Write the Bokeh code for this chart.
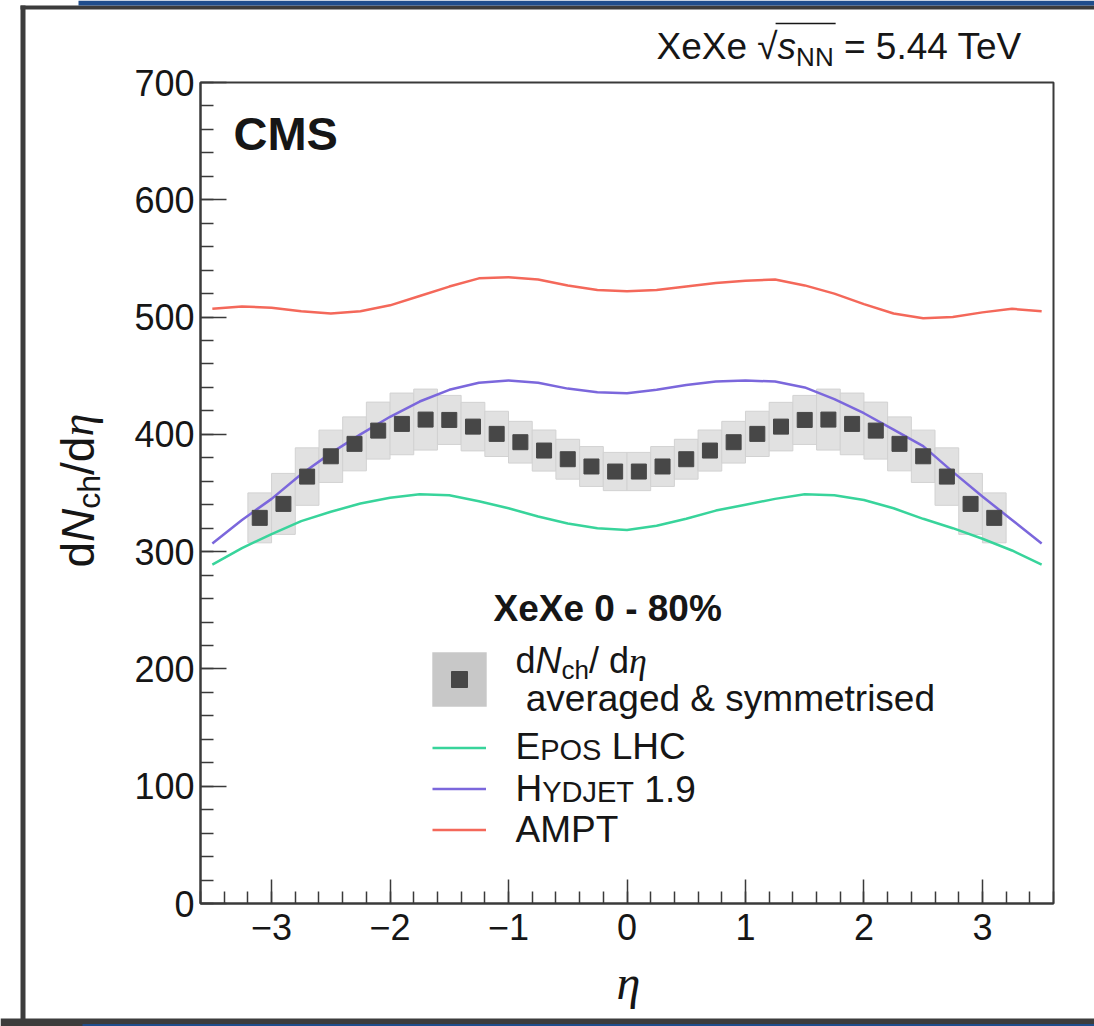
from bokeh.plotting import figure
from bokeh.models import (Label, Legend, LegendItem, SingleIntervalTicker,
                          ColumnDataSource, GlobalInlineStyleSheet)
from bokeh.embed import file_html
from bokeh.resources import INLINE

# ---------------------------------------------------------------- data
# measured dN_ch/deta (averaged & symmetrised), 0.2-wide eta bins
eta_bins = [-3.1, -2.9, -2.7, -2.5, -2.3, -2.1, -1.9, -1.7, -1.5, -1.3, -1.1,
            -0.9, -0.7, -0.5, -0.3, -0.1, 0.1, 0.3, 0.5, 0.7, 0.9, 1.1, 1.3,
            1.5, 1.7, 1.9, 2.1, 2.3, 2.5, 2.7, 2.9, 3.1]
dndeta = [328.8, 340.7, 364.0, 381.3, 391.9, 403.2, 408.9, 412.6, 412.3,
          406.6, 400.4, 393.3, 386.2, 378.8, 372.6, 368.3, 368.3, 372.6,
          378.8, 386.2, 393.3, 400.4, 406.6, 412.3, 412.6, 408.9, 403.2,
          391.9, 381.3, 364.0, 340.7, 328.8]
dndeta_sys = [21.3, 26.0, 24.5, 22.3, 23.0, 24.3, 26.3, 26.0, 20.9, 20.7,
              19.3, 17.8, 17.5, 17.0, 17.0, 16.3, 16.3, 17.0, 17.0, 17.5,
              17.8, 19.3, 20.7, 20.9, 26.0, 26.3, 24.3, 23.0, 22.3, 24.5,
              26.0, 21.3]
bin_width = 0.2

# generator predictions
model_eta = [-3.5, -3.25, -3.0, -2.75, -2.5, -2.25, -2.0, -1.75, -1.5, -1.25,
             -1.0, -0.75, -0.5, -0.25, 0.0, 0.25, 0.5, 0.75, 1.0, 1.25, 1.5,
             1.75, 2.0, 2.25, 2.5, 2.75, 3.0, 3.25, 3.5]
epos_lhc = [289, 303, 315, 326, 334, 341, 346, 349, 348, 343, 337, 330, 324,
            320, 318.5, 322, 328, 335, 340, 345, 349, 348, 344, 337, 328, 320,
            311, 301, 289]
hydjet_19 = [307, 327, 345, 366, 384, 400, 415, 428, 438, 444, 446, 444, 439,
             436, 435, 438, 442, 445, 446, 445, 440, 430, 418, 404, 390, 368,
             347, 327, 307]
ampt = [507, 509, 508, 505, 503, 505, 510, 518, 526, 533, 534, 532, 527, 523,
        522, 523, 526, 529, 531, 532, 527, 520, 511, 503, 499, 500, 504, 507,
        505]

# ---------------------------------------------------------------- style
INK = "#161616"
FRAME = "#3a3a3a"
SLIDE_DARK = "#3c3c3c"
SLIDE_BLUE = "#1f4d8c"
C_EPOS = "#38d49b"
C_HYDJET = "#7b67dc"
C_AMPT = "#f4685a"
C_POINT = "#474747"
C_SYS = "#e1e1e1"
SANS = "Liberation Sans"
SERIF = "Liberation Serif"
NAN = float("nan")

# page geometry (pixels)
PAGE_W, PAGE_H = 1094, 1026
FIG_X0, FIG_Y0, FIG_Y1 = 25, 9, 1018
FRAME_L, FRAME_R, FRAME_T, FRAME_B = 200, 1053, 82, 903

page_css = GlobalInlineStyleSheet(
    css="html, body { margin: 0; padding: 0; overflow: hidden; }")

# ---------------------------------------------------------------- main plot
p = figure(width=PAGE_W - FIG_X0, height=FIG_Y1 - FIG_Y0,
           x_range=(-3.6, 3.6), y_range=(0, 700),
           output_backend="svg", toolbar_location=None,
           min_border_left=FRAME_L - FIG_X0, min_border_right=PAGE_W - FRAME_R,
           min_border_top=FRAME_T - FIG_Y0, min_border_bottom=FIG_Y1 - FRAME_B)
p.styles = {"position": "absolute", "left": f"{FIG_X0}px",
            "top": f"{FIG_Y0}px", "overflow": "hidden"}
p.stylesheets = [page_css]
p.background_fill_color = "white"
p.border_fill_color = "white"
p.grid.visible = False
p.outline_line_color = FRAME
p.outline_line_width = 2

p.xaxis.ticker = SingleIntervalTicker(interval=1, num_minor_ticks=5)
p.yaxis.ticker = SingleIntervalTicker(interval=100, num_minor_ticks=5)
p.xaxis.major_label_overrides = {-3: "\u22123", -2: "\u22122", -1: "\u22121"}
for ax in (p.xaxis[0], p.yaxis[0]):
    ax.axis_line_color = FRAME
    ax.axis_line_width = 2
    ax.major_tick_line_color = FRAME
    ax.minor_tick_line_color = FRAME
    ax.major_tick_line_width = 1.5
    ax.minor_tick_line_width = 1.5
    ax.major_tick_out = 0
    ax.minor_tick_out = 0
    ax.major_label_text_font = SANS
    ax.major_label_text_font_size = "36px"
    ax.major_label_text_color = INK
p.xaxis.major_tick_in = 24
p.xaxis.minor_tick_in = 12
p.yaxis.major_tick_in = 26
p.yaxis.minor_tick_in = 13
p.xaxis.major_label_standoff = 10
p.yaxis.major_label_standoff = 6

src = ColumnDataSource(dict(
    eta=eta_bins, val=dndeta,
    lo=[v - s for v, s in zip(dndeta, dndeta_sys)],
    hi=[v + s for v, s in zip(dndeta, dndeta_sys)],
    left=[e - bin_width / 2 for e in eta_bins],
    right=[e + bin_width / 2 for e in eta_bins],
))
p.quad(left="left", right="right", bottom="lo", top="hi", source=src,
       fill_color=C_SYS, line_color="#d2d2d2", line_width=1)

r_epos = p.line(model_eta, epos_lhc, line_color=C_EPOS, line_width=2.5)
r_hyd = p.line(model_eta, hydjet_19, line_color=C_HYDJET, line_width=2.5)
r_ampt = p.line(model_eta, ampt, line_color=C_AMPT, line_width=2.5)

p.scatter("eta", "val", source=src, marker="square", size=15,
          fill_color=C_POINT, line_color=C_POINT)

# legend keys: styled proxies with no visible position in the plot
r_box_key = p.rect(x=[NAN], y=[NAN], width=1, height=1, fill_color="#c8c8c8",
                   line_color=None)
r_pt_key = p.scatter(x=[NAN], y=[NAN], marker="square", size=15,
                     fill_color=C_POINT, line_color=C_POINT)


def key_legend(items, glyph, left, bottom):
    lg = Legend(items=items, location=(left - FRAME_L, FRAME_B - bottom),
                glyph_width=glyph[0], glyph_height=glyph[1], spacing=0,
                padding=0, margin=0, label_standoff=0, label_width=1,
                label_height=1, label_text_font_size="1px",
                border_line_alpha=0, background_fill_alpha=0)
    p.add_layout(lg)


key_legend([LegendItem(label=" ", renderers=[r_box_key])], (68, 68),
           459 - 34, 679 + 34)
key_legend([LegendItem(label=" ", renderers=[r_pt_key])], (40, 40),
           459 - 20, 679 + 20)
key_legend([LegendItem(label=" ", renderers=[r_epos]),
            LegendItem(label=" ", renderers=[r_hyd]),
            LegendItem(label=" ", renderers=[r_ampt])], (54, 41),
           432, 849.5)

# ---------------------------------------------------------------- text layer
# a transparent sheet over the whole page, in page pixel coordinates
ov = figure(width=PAGE_W, height=PAGE_H, x_range=(0, PAGE_W),
            y_range=(PAGE_H, 0), x_axis_type=None, y_axis_type=None,
            output_backend="svg", toolbar_location=None, min_border=0)
ov.styles = {"position": "absolute", "left": "0px", "top": "0px",
             "pointer-events": "none", "overflow": "hidden"}
ov.outline_line_color = None
ov.grid.visible = False
ov.background_fill_alpha = 0
ov.border_fill_alpha = 0

# slide frame around the chart
ov.quad(left=[20, 20, 0], right=[25, PAGE_W, PAGE_W], top=[5, 5, 1018],
        bottom=[PAGE_H, 9, PAGE_H], fill_color=SLIDE_DARK, line_color=None)
ov.quad(left=[78, 82], right=[PAGE_W, PAGE_W], top=[0, 1023.5],
        bottom=[5, PAGE_H], fill_color=SLIDE_BLUE, line_color=None)

EM = {" ": .278, "&": .667, "%": .889, "-": .333, ".": .278, "/": .278,
      "=": .584, "A": .667, "C": .722, "D": .722, "E": .667, "H": .722,
      "J": .5, "L": .556, "M": .833, "N": .722, "O": .778, "P": .667,
      "S": .667, "T": .611, "V": .667, "X": .667, "Y": .667, "a": .556,
      "c": .5, "d": .556, "e": .556, "g": .556, "h": .556, "i": .222,
      "m": .833, "r": .333, "s": .5, "t": .278, "v": .5, "y": .5,
      "\u221a": .549, "\u03b7": .5}


def run_width(s, size):
    return sum(EM.get(ch, .556) for ch in s) * size


def rich(x0, y0, parts, vertical=False):
    """Place text runs one after another; y0 (or x0) is the line's centre."""
    pos = y0 if vertical else x0
    spans = []
    for text, size, style, font, shift in parts:
        body = text.strip(" ")
        lead = len(text) - len(text.lstrip(" "))
        trail = len(text) - len(text.rstrip(" "))
        step = lead * EM[" "] * size
        pos = pos - step if vertical else pos + step
        if vertical:
            lab = Label(x=x0 + shift, y=pos, angle=90, angle_units="deg",
                        text=body)
        else:
            lab = Label(x=pos, y=y0 + shift, text=body)
        lab.text_font = font
        lab.text_font_size = f"{size}px"
        lab.text_font_style = style
        lab.text_color = INK
        lab.text_align = "left"
        lab.text_baseline = "middle"
        ov.add_layout(lab)
        w = run_width(body, size)
        spans.append((pos, pos - w if vertical else pos + w))
        step = w + trail * EM[" "] * size
        pos = pos - step if vertical else pos + step
    return spans


# collision system and energy
TOP_Y, TOP_SIZE = 46, 37
spans = rich(656, TOP_Y, [("XeXe ", TOP_SIZE, "normal", SANS, 0),
                          ("\u221a", TOP_SIZE, "normal", SANS, 0),
                          ("s", TOP_SIZE, "italic", SANS, 0),
                          ("NN", 26, "normal", SANS, 10),
                          (" = 5.44 TeV", TOP_SIZE, "normal", SANS, 0)])
bar_y = TOP_Y - 0.62 * TOP_SIZE
ov.line(x=[spans[1][1] - 2, spans[3][1] + 2], y=[bar_y, bar_y],
        line_color=INK, line_width=1.5)

# experiment tag
rich(233, 133, [("CMS", 47, "bold", SANS, 0)])

# axis titles
rich(77, 567, [("d", 46, "normal", SANS, 0),
               ("N", 46, "italic", SANS, 0),
               ("ch", 32, "normal", SANS, 11),
               ("/d", 46, "normal", SANS, 0),
               ("\u03b7", 46, "italic", SERIF, 0)], vertical=True)
rich(616, 982, [("\u03b7", 48, "italic", SERIF, 0)])

# legend header and entries
rich(493, 608, [("XeXe 0 - 80%", 37, "bold", SANS, 0)])
rich(515, 660, [("d", 36, "normal", SANS, 0),
                ("N", 36, "italic", SANS, 0),
                ("ch", 26, "normal", SANS, 9),
                ("/ d", 36, "normal", SANS, 0),
                ("\u03b7", 36, "italic", SERIF, 0)])
rich(515, 698, [(" averaged & symmetrised", 37, "normal", SANS, 0)])
rich(515, 746, [("E", 37, "normal", SANS, 0),
                ("POS", 29, "normal", SANS, 3),
                (" LHC", 37, "normal", SANS, 0)])
rich(515, 788, [("H", 37, "normal", SANS, 0),
                ("YDJET", 29, "normal", SANS, 3),
                (" 1.9", 37, "normal", SANS, 0)])
rich(515, 829, [("AMPT", 37, "normal", SANS, 0)])

open("out.html", "w").write(file_html([p, ov], INLINE))
